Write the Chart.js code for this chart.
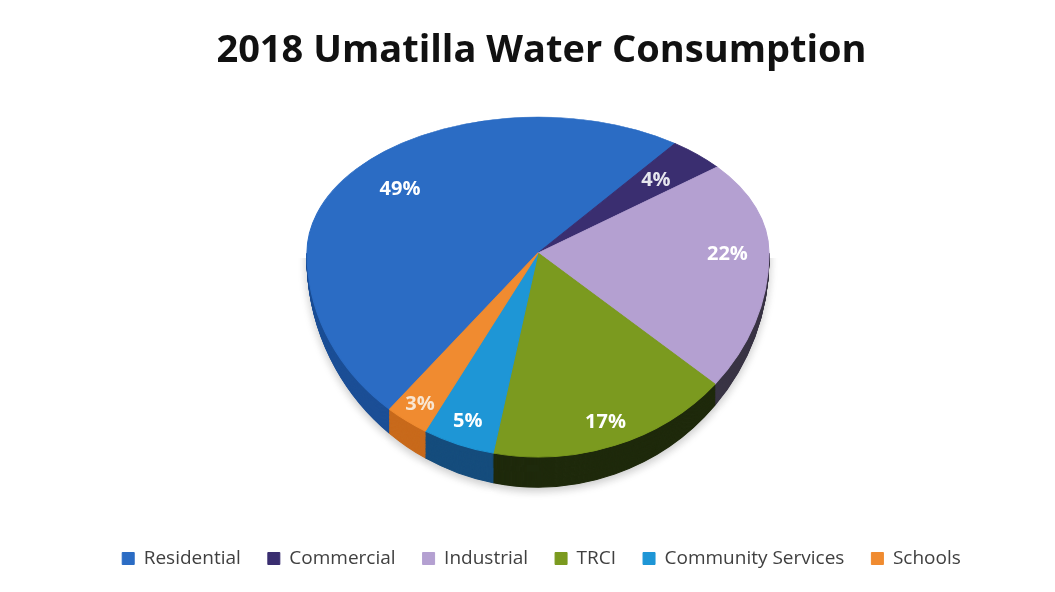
<!DOCTYPE html>
<html><head><meta charset="utf-8">
<script src="https://cdn.jsdelivr.net/npm/chart.js@4.4.1/dist/chart.umd.min.js"></script>
<style>html,body{margin:0;padding:0;background:#fff}#wrap{width:1055px;height:592px;position:relative}</style>
</head><body><div id="wrap"><canvas id="c"></canvas></div>
<script>
// ---- data ----
const categories = ['Residential','Commercial','Industrial','TRCI','Community Services','Schools'];
const shares = [49, 4, 22, 17, 5, 3];
const pctLabels = ['49%','4%','22%','17%','5%','3%'];
const chartTitle = '2018 Umatilla Water Consumption';

// ---- styles ----
const topColors  = ['#2b6cc4','#3a2e70','#b4a0d1','#7b9a1f','#1e96d6','#f08b30'];
const sideColors = ['#1c4f96','#241c4a','#3a3545','#1f2a0c','#164d7d','#c86a1c'];
const labelColors = ['#ffffff','#e6e6ee','#ffffff','#ffffff','#ffffff','#f8e6d2'];
const labelRadius = [0.76, 0.74, 0.82, 0.88, 0.88, 0.9];
const PIE = {cx: 538, cy: 253, rx: 231, ryUp: 136, ryDown: 204, sideDrop: 5, frontExtra: 25, steps: 30, rotation: 220};

function drawArcs(chart, colors, ty, ry) {
  const ctx = chart.ctx;
  const meta = chart.getDatasetMeta(0);
  const a0 = meta.data[0];
  const R = a0.outerRadius;
  ctx.save();
  ctx.translate(PIE.cx, ty);
  ctx.scale(PIE.rx / R, ry / R);
  ctx.translate(-a0.x, -a0.y);
  meta.data.forEach((arc, i) => {
    if (colors) {
      const ghost = Object.create(arc);
      ghost.options = Object.assign({}, arc.options, {backgroundColor: colors[i], borderColor: colors[i]});
      arc.draw.call(ghost, ctx);
    } else {
      arc.draw(ctx);
    }
  });
  ctx.restore();
}

const pie3d = {
  id: 'pie3d',
  beforeDatasetsDraw(chart) {
    const ctx = chart.ctx;
    const W = chart.width, H = chart.height;
    // side wall
    for (let s = PIE.steps; s >= 1; s--) {
      const f = s / PIE.steps;
      const ty = PIE.cy + f * PIE.sideDrop;
      const ry = PIE.ryDown + f * PIE.frontExtra;
      ctx.save();
      ctx.beginPath(); ctx.rect(0, Math.round(ty), W, H); ctx.clip();
      if (s === PIE.steps) {
        ctx.shadowColor = 'rgba(0,0,0,0.22)';
        ctx.shadowBlur = 10;
        ctx.shadowOffsetY = 3;
      }
      drawArcs(chart, sideColors, ty, ry);
      ctx.restore();
    }
    // top face: far half and near half
    ctx.save();
    ctx.beginPath(); ctx.rect(0, 0, W, PIE.cy); ctx.clip();
    drawArcs(chart, null, PIE.cy, PIE.ryUp);
    ctx.restore();
    ctx.save();
    ctx.beginPath(); ctx.rect(0, PIE.cy, W, H); ctx.clip();
    drawArcs(chart, null, PIE.cy, PIE.ryDown);
    ctx.restore();
    return false;
  },
  afterDraw(chart) {
    const ctx = chart.ctx;
    const meta = chart.getDatasetMeta(0);
    ctx.save();
    ctx.font = 'bold 20px "Open Sans", Lato, sans-serif';
    ctx.textAlign = 'center';
    ctx.textBaseline = 'middle';
    meta.data.forEach((arc, i) => {
      const mid = (arc.startAngle + arc.endAngle) / 2;
      const k = labelRadius[i];
      const s = Math.sin(mid);
      const x = PIE.cx + k * PIE.rx * Math.cos(mid);
      const y = PIE.cy + k * (s < 0 ? PIE.ryUp : PIE.ryDown) * s;
      ctx.fillStyle = labelColors[i];
      ctx.fillText(pctLabels[i], x, y);
    });
    ctx.restore();
  }
};

new Chart(document.getElementById('c'), {
  type: 'pie',
  data: {
    labels: categories,
    datasets: [{
      data: shares,
      backgroundColor: topColors,
      borderColor: topColors,
      borderWidth: 1
    }]
  },
  options: {
    responsive: true,
    maintainAspectRatio: false,
    animation: false,
    events: [],
    rotation: PIE.rotation,
    layout: {padding: {left: 28, bottom: 14}},
    plugins: {
      tooltip: {enabled: false},
      title: {
        display: true,
        text: chartTitle,
        color: '#111111',
        font: {family: '"Open Sans"', size: 38, weight: 'bold'},
        padding: {top: 28, bottom: 20}
      },
      legend: {
        position: 'bottom',
        labels: {
          boxWidth: 12,
          boxHeight: 12,
          padding: 27,
          color: '#404040',
          font: {family: '"Open Sans"', size: 19}
        }
      }
    }
  },
  plugins: [pie3d]
});
</script>
</body></html>
